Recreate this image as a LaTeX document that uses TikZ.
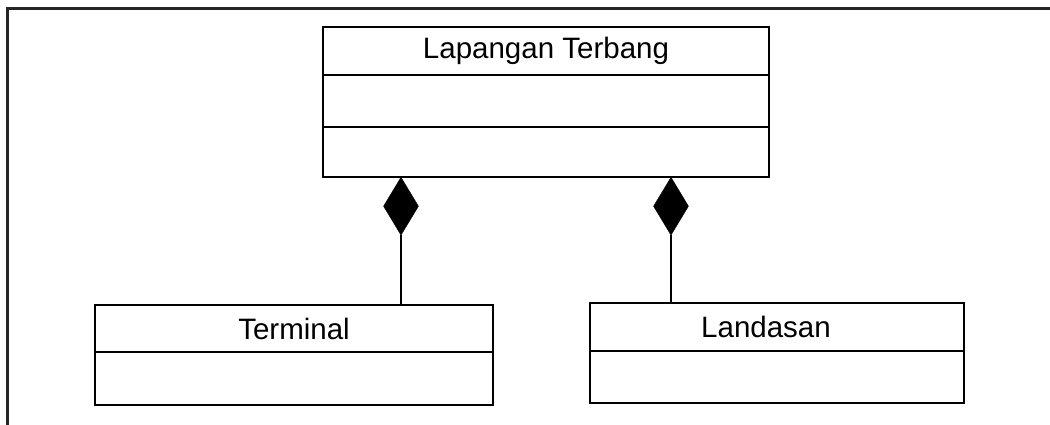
\documentclass[tikz,border=0pt]{standalone}
\usepackage{fontspec}
\setmainfont{Liberation Sans}
\usetikzlibrary{shapes.geometric}
\begin{document}
\begin{tikzpicture}[x=1pt,y=-1pt,
  box/.style={draw=black,line width=2.8pt},
  lbl/.style={font=\fontsize{29.5}{34}\selectfont,inner sep=0pt},
  comp/.style={draw=black,fill=black,diamond,shape aspect=0.6,minimum width=35pt,minimum height=58pt,inner sep=0pt},
  link/.style={draw=black,line width=2.4pt}]
\useasboundingbox (0,0) rectangle (1050,425);
% frame
\draw[line width=3pt,black!85] (1050,9) -- (7,9) -- (7,425);
% top class
\draw[box] (323,27) rectangle (769,177);
\draw[box] (323,75) -- (769,75);
\draw[box] (323,127) -- (769,127);
\node[lbl] (lt) at (546,51) {Lapangan Terbang};
\coordinate (ltl) at (401,177);
\coordinate (ltr) at (671,177);
% terminal
\draw[box] (95,305) rectangle (493,405);
\draw[box] (95,352) -- (493,352);
\node[lbl] (term) at (294,329) {Terminal};
\coordinate (termt) at (401,305);
% landasan
\draw[box] (590,303) rectangle (964,403);
\draw[box] (590,351) -- (964,351);
\node[lbl] (land) at (766,327) {Landasan};
\coordinate (landt) at (671,303);
% diamonds
\node[comp,anchor=north] (d1) at (ltl) {};
\node[comp,anchor=north] (d2) at (ltr) {};
\draw[link] (d1.south) -- (termt);
\draw[link] (d2.south) -- (landt);
\end{tikzpicture}
\end{document}
